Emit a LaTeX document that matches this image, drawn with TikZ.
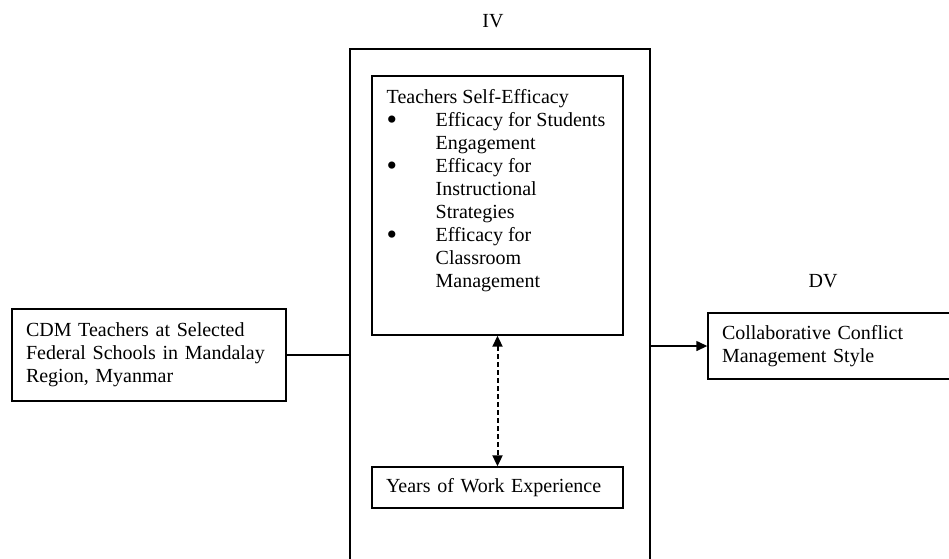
\documentclass[tikz,border=0pt]{standalone}
\usepackage{fontspec}
\setmainfont{Liberation Serif}
\usetikzlibrary{arrows.meta}
\newcommand{\bigbullet}{\raisebox{-3pt}[0pt][0pt]{\scalebox{1.5}{\textbullet}}}

\begin{document}
\begin{tikzpicture}[x=1pt,y=-1pt, line width=1.4pt,
  box/.style={draw, rectangle, inner sep=0pt},
  txtbox/.style={draw, rectangle, align=left, inner xsep=14pt, inner ysep=0pt},
  varlabel/.style={inner sep=0pt, anchor=base}]
\useasboundingbox (0,0) rectangle (949,558);
\clip (0,0) rectangle (949,558);
\fontsize{20}{23}\selectfont
% labels
\node [varlabel] (iv) at (493,27) {IV};
\node [varlabel] (dv) at (823,287) {DV};
% independent variables frame
\node [box, minimum width=300pt, minimum height=560pt] (frame) at (500,329) {};
\node [box, minimum width=251pt, minimum height=259pt] (tse) at (497.5,205.5) {};
\node [anchor=north west, inner sep=0pt] (tselist) at (386,86.5) {%
  \begin{tabular}{@{}p{49pt}@{}l@{}}
  \multicolumn{2}{@{}l@{}}{Teachers Self-Efficacy}\\
  \bigbullet & Efficacy for Students\\
   & Engagement\\
  \bigbullet & Efficacy for\\
   & Instructional\\
   & Strategies\\
  \bigbullet & Efficacy for\\
   & Classroom\\
   & Management
  \end{tabular}};
\node [txtbox, text width=223pt, minimum height=41pt] (years) at (497.5,487.5) {Years of Work Experience};
% target group and dependent variable
\node [txtbox, text width=246pt, minimum height=92pt] (cdm) at (149,355)
  {CDM Teachers at Selected\\Federal Schools in Mandalay\\Region, Myanmar};
\node [txtbox, text width=229pt, minimum height=66pt] (ccms) at (836.5,346)
  {Collaborative Conflict\\Management Style};
% connectors
\draw (cdm.east) -- (cdm.east -| frame.west);
\draw [-{Triangle[length=11pt,width=10pt]}] (frame.east |- ccms.west) -- (ccms.west);
\draw [line width=2pt, dash pattern=on 5pt off 3pt,
  {Triangle[length=11pt,width=10pt]}-{Triangle[length=11pt,width=10pt]}] (tse.south) -- (years.north);
\end{tikzpicture}
\end{document}
